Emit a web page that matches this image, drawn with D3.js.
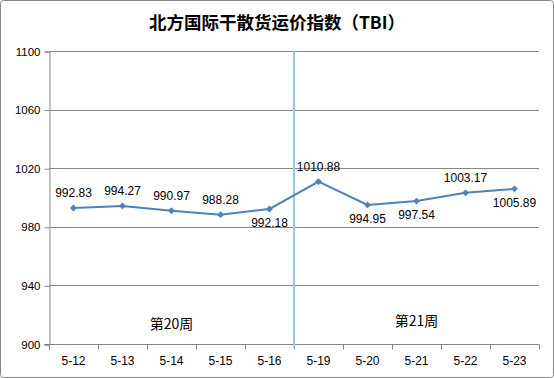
<!DOCTYPE html>
<html>
<head>
<meta charset="utf-8">
<script src="https://cdn.jsdelivr.net/npm/d3@7.9.0/dist/d3.min.js"></script>
<style>
  html, body { margin: 0; padding: 0; background: #fff; }
  text { font-family: "Liberation Sans", "DejaVu Sans", sans-serif; }
</style>
</head>
<body>
<svg id="chart" width="554" height="378"></svg>
<script>
const dates = ['5-12', '5-13', '5-14', '5-15', '5-16', '5-19', '5-20', '5-21', '5-22', '5-23'];
const tbi = [992.83, 994.27, 990.97, 988.28, 992.18, 1010.88, 994.95, 997.54, 1003.17, 1005.89];
const labelSide = ['up', 'up', 'up', 'up', 'down', 'up', 'down', 'down', 'up', 'down'];
const yTicks = [900, 940, 980, 1020, 1060, 1100];
const weeks = [
  { name: '第20周', from: '5-12', to: '5-16' },
  { name: '第21周', from: '5-19', to: '5-23' }
];

const W = 554, H = 378;
const margin = { top: 51, right: 15, bottom: 34, left: 49 };
const blue = '#4f81bd';
const grid = '#868686';

const svg = d3.select('#chart');

// outer frame
svg.append('rect')
  .attr('x', 0.5).attr('y', 0.5)
  .attr('width', W - 1).attr('height', H - 1)
  .attr('rx', 3)
  .attr('fill', '#fff')
  .attr('stroke', '#868686');

svg.append('text')
  .attr('x', 277).attr('y', 29)
  .attr('text-anchor', 'middle')
  .style('font-family', '"Noto Sans CJK SC", sans-serif')
  .style('font-size', '17.5px')
  .style('font-weight', 'bold')
  .text('北方国际干散货运价指数（TBI）');

const x = d3.scaleBand()
  .domain(dates)
  .range([margin.left, W - margin.right]);

const y = d3.scaleLinear()
  .domain([900, 1100])
  .range([H - margin.bottom, margin.top]);

// horizontal gridlines
svg.append('g')
  .selectAll('line')
  .data(yTicks.slice(1))
  .join('line')
  .attr('x1', margin.left).attr('x2', W - margin.right)
  .attr('y1', d => Math.round(y(d)) + 0.5).attr('y2', d => Math.round(y(d)) + 0.5)
  .attr('stroke', grid);

// y axis
const yAxis = svg.append('g')
  .attr('transform', `translate(${margin.left + 0.5},0.5)`)
  .call(d3.axisLeft(y).tickValues(yTicks).tickSize(5).tickPadding(4).tickFormat(d3.format('d')));
yAxis.selectAll('path, line').attr('stroke', grid);
yAxis.selectAll('text').style('font-size', '11.5px').attr('fill', '#000');

// x axis with ticks between categories
const xAxisG = svg.append('g')
  .attr('transform', `translate(0,${Math.round(y(900)) + 0.5})`);
xAxisG.append('line')
  .attr('x1', margin.left - 5).attr('x2', W - margin.right)
  .attr('stroke', grid);
const bounds = dates.map(d => x(d)).concat([x(dates[dates.length - 1]) + x.bandwidth()]);
xAxisG.selectAll('line.tk')
  .data(bounds)
  .join('line')
  .attr('class', 'tk')
  .attr('x1', d => Math.round(d) + 0.5).attr('x2', d => Math.round(d) + 0.5)
  .attr('y1', 0).attr('y2', 5)
  .attr('stroke', grid);
xAxisG.selectAll('text')
  .data(dates)
  .join('text')
  .attr('x', d => x(d) + x.bandwidth() / 2)
  .attr('y', 20)
  .attr('text-anchor', 'middle')
  .style('font-size', '12px')
  .text(d => d);

// week separator
const sepX = x(weeks[1].from);
svg.append('line')
  .attr('x1', sepX).attr('x2', sepX)
  .attr('y1', margin.top).attr('y2', y(900) + 4)
  .attr('stroke', '#9dc3e6')
  .attr('stroke-width', 2);

// week labels
svg.selectAll('text.week')
  .data(weeks)
  .join('text')
  .attr('class', 'week')
  .attr('x', d => (x(d.from) + x(d.to) + x.bandwidth()) / 2)
  .attr('y', (d, i) => i === 0 ? 329 : 326)
  .attr('text-anchor', 'middle')
  .style('font-family', '"Noto Sans CJK SC", sans-serif')
  .style('font-size', '14px')
  .text(d => d.name);

// series
const pts = dates.map((d, i) => ({ date: d, v: tbi[i], side: labelSide[i] }));
const line = d3.line()
  .x(d => x(d.date) + x.bandwidth() / 2)
  .y(d => y(d.v));

svg.append('path')
  .datum(pts)
  .attr('d', line)
  .attr('fill', 'none')
  .attr('stroke', blue)
  .attr('stroke-width', 2);

svg.selectAll('path.mk')
  .data(pts)
  .join('path')
  .attr('class', 'mk')
  .attr('d', d3.symbol(d3.symbolDiamond2, 30))
  .attr('transform', d => `translate(${x(d.date) + x.bandwidth() / 2},${y(d.v)})`)
  .attr('fill', blue);

svg.selectAll('text.lbl')
  .data(pts)
  .join('text')
  .attr('class', 'lbl')
  .attr('x', d => x(d.date) + x.bandwidth() / 2)
  .attr('y', d => y(d.v) + (d.side === 'up' ? -11 : 18))
  .attr('text-anchor', 'middle')
  .style('font-size', '12px')
  .text(d => d3.format('.2f')(d.v));
</script>
</body>
</html>
